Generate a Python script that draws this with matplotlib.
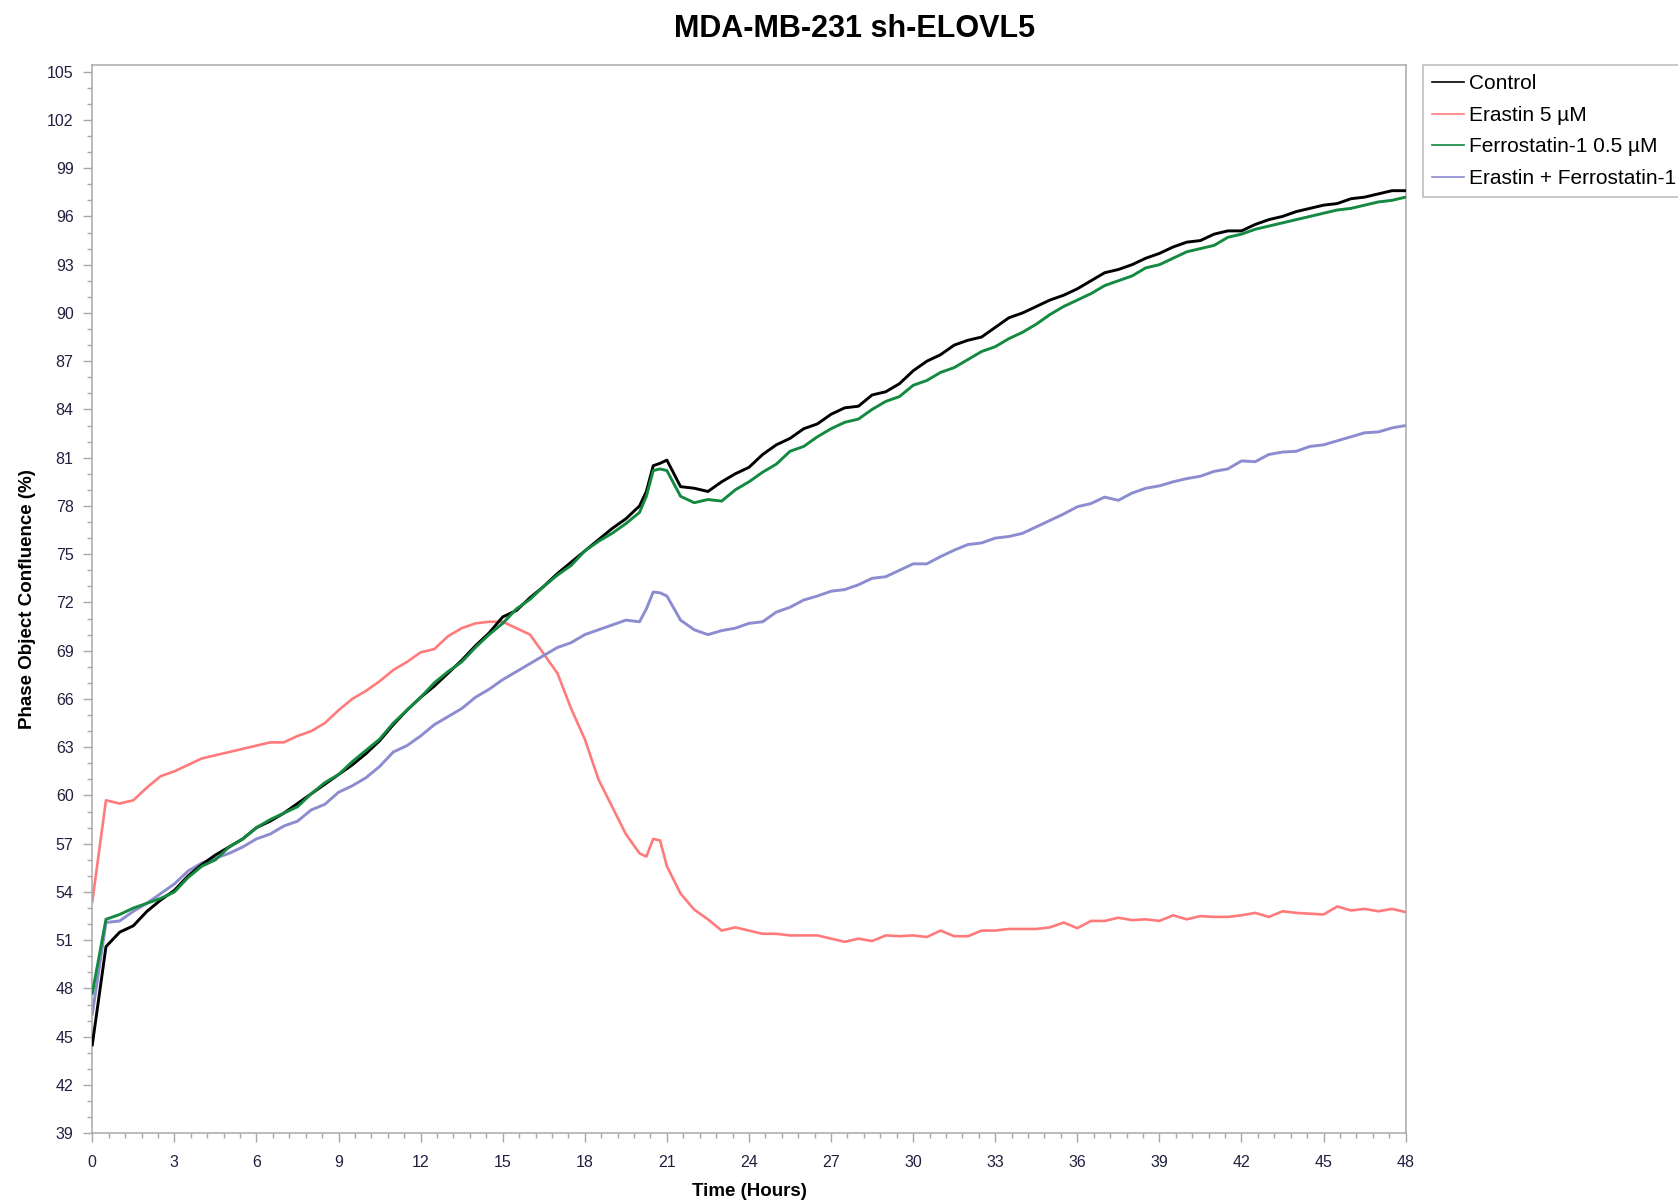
import matplotlib
matplotlib.use("Agg")
import matplotlib.pyplot as plt
from matplotlib.lines import Line2D
from matplotlib.ticker import MultipleLocator

# --- Data ---
hours = [0, 0.5, 1, 1.5, 2, 2.5, 3, 3.5, 4, 4.5,
         5, 5.5, 6, 6.5, 7, 7.5, 8, 8.5, 9, 9.5,
         10, 10.5, 11, 11.5, 12, 12.5, 13, 13.5, 14, 14.5,
         15, 15.5, 16, 16.5, 17, 17.5, 18, 18.5, 19, 19.5,
         20, 20.25, 20.5, 20.75, 21, 21.5, 22, 22.5, 23, 23.5,
         24, 24.5, 25, 25.5, 26, 26.5, 27, 27.5, 28, 28.5,
         29, 29.5, 30, 30.5, 31, 31.5, 32, 32.5, 33, 33.5,
         34, 34.5, 35, 35.5, 36, 36.5, 37, 37.5, 38, 38.5,
         39, 39.5, 40, 40.5, 41, 41.5, 42, 42.5, 43, 43.5,
         44, 44.5, 45, 45.5, 46, 46.5, 47, 47.5, 48]

control = [44.5, 50.6, 51.5, 51.9, 52.8, 53.5, 54.1, 55.0, 55.7, 56.3,
           56.8, 57.3, 58.0, 58.4, 58.9, 59.5, 60.1, 60.7, 61.3, 61.9,
           62.6, 63.4, 64.4, 65.3, 66.1, 66.8, 67.6, 68.4, 69.3, 70.1,
           71.1, 71.5, 72.3, 73.0, 73.8, 74.5, 75.2, 75.9, 76.6, 77.2,
           78.0, 78.9, 80.5, 80.65, 80.85, 79.2, 79.1, 78.9, 79.5, 80.0,
           80.4, 81.2, 81.8, 82.2, 82.8, 83.1, 83.7, 84.1, 84.2, 84.9,
           85.1, 85.6, 86.4, 87.0, 87.4, 88.0, 88.3, 88.5, 89.1, 89.7,
           90.0, 90.4, 90.8, 91.1, 91.5, 92.0, 92.5, 92.7, 93.0, 93.4,
           93.7, 94.1, 94.4, 94.5, 94.9, 95.1, 95.1, 95.5, 95.8, 96.0,
           96.3, 96.5, 96.7, 96.8, 97.1, 97.2, 97.4, 97.6, 97.6]

erastin = [53.4, 59.7, 59.5, 59.7, 60.5, 61.2, 61.5, 61.9, 62.3, 62.5,
           62.7, 62.9, 63.1, 63.3, 63.3, 63.7, 64.0, 64.5, 65.3, 66.0,
           66.5, 67.1, 67.8, 68.3, 68.9, 69.1, 69.9, 70.4, 70.7, 70.8,
           70.8, 70.4, 70.0, 68.8, 67.6, 65.4, 63.5, 61.0, 59.3, 57.6,
           56.4, 56.2, 57.3, 57.2, 55.6, 53.9, 52.9, 52.3, 51.6, 51.8,
           51.6, 51.4, 51.4, 51.3, 51.3, 51.3, 51.1, 50.9, 51.1, 50.95,
           51.3, 51.25, 51.3, 51.2, 51.6, 51.25, 51.25, 51.6, 51.6, 51.7,
           51.7, 51.7, 51.8, 52.1, 51.75, 52.2, 52.2, 52.4, 52.25, 52.3,
           52.2, 52.55, 52.3, 52.5, 52.45, 52.45, 52.55, 52.7, 52.45, 52.8,
           52.7, 52.65, 52.6, 53.1, 52.85, 52.95, 52.8, 52.95, 52.75]

ferrostatin = [47.7, 52.3, 52.6, 53.0, 53.3, 53.6, 54.0, 54.9, 55.6, 56.0,
               56.8, 57.3, 58.0, 58.5, 58.9, 59.3, 60.1, 60.8, 61.3, 62.1,
               62.8, 63.5, 64.5, 65.3, 66.1, 67.0, 67.7, 68.3, 69.2, 70.0,
               70.7, 71.6, 72.2, 73.0, 73.7, 74.3, 75.2, 75.8, 76.3, 76.9,
               77.6, 78.6, 80.2, 80.3, 80.2, 78.6, 78.2, 78.4, 78.3, 79.0,
               79.5, 80.1, 80.6, 81.4, 81.7, 82.3, 82.8, 83.2, 83.4, 84.0,
               84.5, 84.8, 85.5, 85.8, 86.3, 86.6, 87.1, 87.6, 87.9, 88.4,
               88.8, 89.3, 89.9, 90.4, 90.8, 91.2, 91.7, 92.0, 92.3, 92.8,
               93.0, 93.4, 93.8, 94.0, 94.2, 94.7, 94.9, 95.2, 95.4, 95.6,
               95.8, 96.0, 96.2, 96.4, 96.5, 96.7, 96.9, 97.0, 97.2]

combo = [46.4, 52.1, 52.2, 52.8, 53.3, 53.9, 54.5, 55.3, 55.8, 56.1,
         56.4, 56.8, 57.3, 57.6, 58.1, 58.4, 59.1, 59.45, 60.2, 60.6,
         61.1, 61.8, 62.7, 63.1, 63.7, 64.4, 64.9, 65.4, 66.1, 66.6,
         67.2, 67.7, 68.2, 68.7, 69.2, 69.5, 70.0, 70.3, 70.6, 70.9,
         70.8, 71.6, 72.65, 72.6, 72.4, 70.9, 70.3, 70.0, 70.25, 70.4,
         70.7, 70.8, 71.4, 71.7, 72.15, 72.4, 72.7, 72.8, 73.1, 73.5,
         73.6, 74.0, 74.4, 74.4, 74.85, 75.25, 75.6, 75.7, 76.0, 76.1,
         76.3, 76.7, 77.1, 77.5, 77.95, 78.15, 78.55, 78.35, 78.8, 79.1,
         79.25, 79.5, 79.7, 79.85, 80.15, 80.3, 80.8, 80.75, 81.2, 81.35,
         81.4, 81.7, 81.8, 82.05, 82.3, 82.55, 82.6, 82.85, 83.0]

labels = ["Control", "Erastin 5 \u00b5M", "Ferrostatin-1 0.5 \u00b5M", "Erastin + Ferrostatin-1"]
colors = ["#000000", "#ff7b7b", "#138a40", "#8c8cd0"]

plt.rcParams["font.family"] = ["Liberation Sans", "DejaVu Sans"]

# --- Figure / axes ---
fig = plt.figure(figsize=(16.78, 12.02), dpi=100)
ax = fig.add_axes([0.0550, 0.0572, 0.7827, 0.8888])

series = [control, erastin, ferrostatin, combo]
widths = [2.1, 1.9, 2.1, 2.1]
zorders = [3, 2, 4, 2]
for vals, col, lw, z in zip(series, colors, widths, zorders):
    ax.plot(hours, vals, color=col, linewidth=lw, zorder=z)

ax.set_xlim(0, 48)
ax.set_ylim(39, 105.42)
ax.xaxis.set_major_locator(MultipleLocator(3))
ax.xaxis.set_minor_locator(MultipleLocator(0.6))
ax.yaxis.set_major_locator(MultipleLocator(3))
ax.yaxis.set_minor_locator(MultipleLocator(1))

grey = "#a8a8a8"
for sp in ax.spines.values():
    sp.set_color(grey)
    sp.set_linewidth(1.1)
ax.tick_params(which="major", direction="out", length=6.5, width=1.0,
               color=grey, labelsize=11.5, labelcolor="#202040")
ax.tick_params(which="minor", direction="out", length=3.5, width=1.0, color=grey)
ax.tick_params(axis="x", which="major", pad=9.5)
ax.tick_params(axis="y", which="major", pad=7)

ax.set_xlabel("Time (Hours)", fontsize=13.5, fontweight="bold", labelpad=9)
ax.set_ylabel("Phase Object Confluence (%)", fontsize=13.5, fontweight="bold", labelpad=8)

fig.text(0.509, 0.976, "MDA-MB-231 sh-ELOVL5", ha="center", va="center",
         fontsize=22, fontweight="bold")

# --- Legend (sits outside the axes, runs off the right edge) ---
handles = [Line2D([0], [0], color=c, linewidth=1.2) for c in colors]
leg = fig.legend(handles, labels, loc="upper left",
                 bbox_to_anchor=(1422.7 / 1678, 1 - 65 / 1202),
                 borderaxespad=0, fontsize=15, frameon=True, fancybox=False,
                 handlelength=1.55, handletextpad=0.2, labelspacing=0.6,
                 borderpad=0.45)
leg.get_frame().set_edgecolor(grey)
leg.get_frame().set_linewidth(1.1)

fig.savefig("out.png", dpi=100)
